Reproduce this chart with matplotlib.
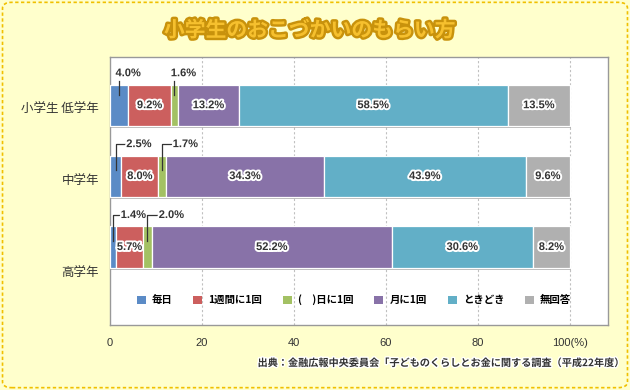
import numpy as np
import matplotlib
matplotlib.use("Agg")
import matplotlib.pyplot as plt
import matplotlib.patheffects as pe
from matplotlib.patches import FancyBboxPatch, Patch

plt.rcParams['font.family'] = ['Noto Sans CJK JP', 'DejaVu Sans']

# data
categories = ['小学生 低学年', '中学年', '高学年']
series = ['毎日', '1週間に1回', '(\u3000)日に1回', '月に1回', 'ときどき', '無回答']
daily = [4.0, 2.5, 1.4]
weekly = [9.2, 8.0, 5.7]
per_days = [1.6, 1.7, 2.0]
monthly = [13.2, 34.3, 52.2]
sometimes = [58.5, 43.9, 30.6]
no_answer = [13.5, 9.6, 8.2]
x_ticks = [0, 20, 40, 60, 80, 100]
x_tick_labels = ['0', '20', '40', '60', '80', '100(%)']

values = [daily, weekly, per_days, monthly, sometimes, no_answer]
colors = ['#5b8bc6', '#cc5f5e', '#a3c163', '#8872a8', '#62afc7', '#b0b0b0']
text_col = '#333333'
num_font = ['Liberation Sans', 'DejaVu Sans']
num_size = 8
halo = [pe.withStroke(linewidth=2.8, foreground='white')]

fig = plt.figure(figsize=(6.3, 3.9), dpi=100)
fig.patch.set_facecolor('#ffffcc')
fig.patches.append(FancyBboxPatch((0.004, 0.006), 0.992, 0.988,
                                  boxstyle='round,pad=0,rounding_size=0.015',
                                  transform=fig.transFigure, fill=False,
                                  edgecolor='#f0c000', linestyle=(0, (2, 1.5)),
                                  linewidth=1.2))

ax = fig.add_axes([110 / 630, 65 / 390, 498 / 630, 268 / 390])
ax.set_facecolor('white')
ax.set_xlim(0, 108.3)
ax.set_ylim(3.1, -0.68)

y = np.arange(len(categories))
left = np.zeros(len(categories))
shadow = [pe.SimplePatchShadow(offset=(0.8, -1.6), shadow_rgbFace='#888888', alpha=0.6), pe.Normal()]
for vals, col, name in zip(values, colors, series):
    bars = ax.barh(y, vals, left=left, height=0.58, color=col, edgecolor='white',
                   linewidth=0.9, label=name, zorder=3)
    for b in bars:
        b.set_path_effects(shadow)
    left += np.array(vals)

# labels inside bars
left = np.zeros(len(categories))
for vals in values:
    for i, v in enumerate(vals):
        if v >= 5:
            ax.text(left[i] + v / 2, y[i], f'{v:.1f}%', ha='center', va='center',
                    fontsize=num_size, fontweight='bold', color=text_col,
                    family=num_font, path_effects=halo, zorder=5)
    left += np.array(vals)

# small values with leader lines
fig.canvas.draw()
inv = ax.transData.inverted()


def px(xd, yd, dx, dy):
    bx, by = ax.transData.transform((xd, yd))
    return inv.transform((bx + dx, by + dy))


# elbow arm length (px) per small label, in drawing order (2.5, 1.4, 1.7, 2.0)
arms = iter([9, 6, 9, 10])

left = np.zeros(len(categories))
for vals in values:
    for i, v in enumerate(vals):
        if v < 5:
            cx = left[i] + v / 2
            if i == 0:
                p0 = px(cx, y[i], 0, 10)
                p1 = px(cx, y[i], 0, 24)
                ax.plot([p0[0], p1[0]], [p0[1], p1[1]], color=text_col, lw=0.9, zorder=6)
                t = px(cx, y[i], 9, 32)
                ax.text(t[0], t[1], f'{v:.1f}%', ha='center', va='center', fontsize=num_size,
                        fontweight='bold', color=text_col, family=num_font,
                        path_effects=halo, zorder=6)
            else:
                arm = next(arms)
                pts = [px(cx, y[i], 0, 6), px(cx, y[i], 0, 32), px(cx, y[i], arm, 32)]
                ax.plot([p[0] for p in pts], [p[1] for p in pts], color=text_col,
                        lw=0.9, zorder=6)
                t = px(cx, y[i], arm + 1.5, 32)
                ax.text(t[0], t[1], f'{v:.1f}%', ha='left', va='center', fontsize=num_size,
                        fontweight='bold', color=text_col, family=num_font,
                        path_effects=halo, zorder=6)
    left += np.array(vals)

# axes styling
for s in ax.spines.values():
    s.set_color('#999999')
    s.set_linewidth(1)
ax.set_xticks(x_ticks)
ax.set_xticklabels(x_tick_labels, fontsize=8, color=text_col, family=num_font)
ax.tick_params(axis='x', length=0, pad=9)
ax.set_yticks([])
for xv in x_ticks[1:]:
    ax.axvline(xv, color='#c0c0c0', lw=0.8, linestyle=(0, (2, 2)), zorder=1)

# category labels (the last one sits lower, as in the source)
label_shift = [-4, -4, -25]
for i, cat in enumerate(categories):
    p = px(0, y[i], -11, label_shift[i])
    ax.text(p[0], p[1], cat, ha='right', va='center', fontsize=9, color=text_col,
            clip_on=False)

handles = [Patch(facecolor=c, edgecolor='none') for c in colors]
ax.legend(handles, series, loc='center', bbox_to_anchor=(0.49, 0.093), ncol=6,
          frameon=False, handlelength=0.85, handleheight=0.85,
          handletextpad=0.6, columnspacing=2.0,
          prop={'size': 7.5, 'weight': 'bold'})

fig.text(310 / 630, 1 - 30 / 390, '小学生のおこづかいのもらい方', ha='center', va='center',
         fontsize=15, fontweight='bold', color='#f6c02e',
         path_effects=[pe.withStroke(linewidth=3.5, foreground='#c8920c')])
fig.text(0.99, 1 - 363 / 390, '出典：金融広報中央委員会「子どものくらしとお金に関する調査（平成22年度）',
         ha='right', va='center', fontsize=7.3, fontweight='bold', color=text_col,
         path_effects=[pe.withStroke(linewidth=2, foreground='white')])

fig.savefig('out.png', dpi=100, facecolor=fig.get_facecolor())
